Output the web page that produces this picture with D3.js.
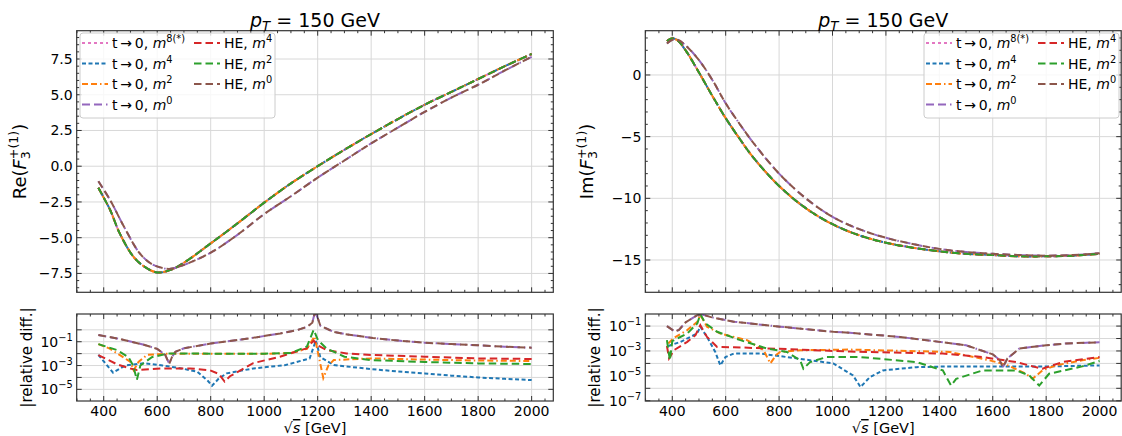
<!DOCTYPE html>
<html>
<head>
<meta charset="utf-8">
<script src="https://cdn.jsdelivr.net/npm/d3@7"></script>
<style>
body{margin:0;background:#fff}
text{font-family:"DejaVu Sans",sans-serif;fill:#000}
</style>
</head>
<body>
<div id="master"></div>
<script>
// ---- data ----
// top left: Re(F3+(1)) against sqrt(s)
const sRe = [380,400,425,460,510,550,600,650,700,800,900,1000,1100,1200,1300,1400,1500,1600,1700,1800,1900,2000]
const reMain = [-1.5,-2.2,-3.1,-4.7,-6.3,-7.0,-7.43,-7.25,-6.75,-5.4,-4.0,-2.55,-1.2,0.0,1.15,2.25,3.3,4.3,5.2,6.1,7.0,7.85]
const sRe0 = [380,425,475,535,580,620,650,700,800,900,1000,1100,1200,1300,1400,1500,1600,1700,1800,1900,2000]
const reM0 = [-1.05,-2.4,-4.2,-6.1,-6.85,-7.12,-7.18,-6.9,-6.05,-4.8,-3.35,-2.1,-0.8,0.4,1.6,2.7,3.8,4.8,5.7,6.7,7.65]

// top right: Im(F3+(1))
const sIm = [380,400,420,450,500,550,600,650,700,800,900,1000,1100,1200,1300,1400,1500,1600,1700,1800,1900,2000]
const imMain = [2.75,2.97,2.8,2.0,0.2,-1.7,-3.5,-5.1,-6.6,-9.0,-10.8,-12.1,-13.0,-13.6,-14.0,-14.3,-14.5,-14.6,-14.7,-14.7,-14.65,-14.5]
const imM0 = [2.55,2.85,2.85,2.4,1.2,-0.4,-2.3,-3.9,-5.4,-8.0,-10.0,-11.5,-12.5,-13.2,-13.7,-14.1,-14.35,-14.5,-14.6,-14.65,-14.6,-14.45]

// bottom panels: [sqrt(s), log10 |relative diff.|]
const relReM4 = [[380,-2.1],[435,-3.6],[480,-3.0],[550,-2.8],[620,-3.0],[690,-3.24],[750,-3.52],[790,-4.3],[805,-4.7],[830,-4.1],[860,-3.66],[960,-3.24],[1080,-2.96],[1170,-2.4],[1193,-0.9],[1210,-2.3],[1260,-2.96],[1400,-3.3],[1500,-3.5],[1600,-3.66],[1700,-3.85],[1800,-4.0],[1900,-4.12],[2000,-4.22]]
const relReM2 = [[380,-1.2],[420,-1.55],[480,-2.4],[500,-2.7],[512,-3.4],[530,-2.7],[562,-2.1],[650,-2.0],[800,-2.0],[1000,-2.02],[1100,-1.95],[1160,-1.6],[1188,-0.55],[1200,-1.8],[1221,-4.05],[1240,-3.0],[1260,-2.54],[1400,-2.4],[1600,-2.5],[1800,-2.58],[2000,-2.62]]
const relReM0 = [[380,-0.44],[450,-0.72],[500,-0.98],[550,-1.25],[600,-1.6],[630,-2.1],[645,-2.85],[655,-2.3],[668,-1.84],[700,-1.55],[800,-1.15],[850,-1.0],[950,-0.7],[1060,-0.3],[1120,-0.05],[1160,0.25],[1180,0.6],[1190,1.5],[1200,1.0],[1210,0.35],[1258,-0.16],[1300,-0.35],[1407,-0.69],[1500,-0.9],[1600,-1.08],[1700,-1.2],[1800,-1.3],[1900,-1.42],[2000,-1.5]]
const relReHE4 = [[380,-2.12],[450,-2.9],[500,-3.25],[524,-3.38],[623,-3.24],[723,-3.24],[797,-3.4],[830,-3.7],[852,-4.35],[872,-3.9],[959,-2.8],[1059,-2.26],[1158,-1.56],[1185,-0.9],[1200,-1.3],[1233,-1.7],[1308,-1.98],[1407,-2.12],[1600,-2.26],[1800,-2.4],[2000,-2.45]]
const relReHE2 = [[380,-1.2],[450,-1.7],[493,-2.3],[510,-3.0],[524,-4.2],[537,-3.0],[580,-2.3],[642,-1.98],[800,-2.0],[1000,-2.0],[1100,-1.95],[1160,-1.4],[1185,0.0],[1201,-0.86],[1233,-1.56],[1300,-2.26],[1400,-2.54],[1600,-2.7],[1800,-2.82],[2000,-2.87]]

const relImM4 = [[385,-2.6],[431,-2.27],[493,-1.6],[505,-1.05],[530,-1.87],[561,-3.08],[580,-4.16],[599,-3.49],[630,-3.21],[730,-3.21],[829,-3.49],[1003,-4.0],[1077,-4.97],[1105,-5.9],[1140,-5.1],[1189,-4.56],[1314,-4.3],[1439,-4.24],[1562,-4.24],[1811,-4.24],[2000,-4.16]]
const relImM2 = [[385,-2.4],[406,-1.95],[456,-1.32],[494,-0.65],[505,-0.1],[530,-1.05],[580,-1.6],[680,-2.13],[742,-2.94],[767,-4.0],[790,-3.3],[804,-3.08],[879,-2.94],[1065,-2.89],[1439,-3.08],[1587,-3.75],[1650,-4.1],[1724,-4.83],[1749,-5.24],[1786,-4.56],[1836,-4.16],[1935,-3.75],[2000,-3.55]]
const relImM0 = [[380,-1.0],[410,-1.45],[425,-1.3],[450,-0.7],[480,-0.3],[500,-0.05],[520,-0.12],[545,-0.28],[630,-0.65],[804,-1.05],[1003,-1.46],[1065,-1.54],[1252,-1.87],[1400,-2.27],[1500,-2.54],[1600,-3.27],[1625,-3.7],[1638,-4.3],[1655,-3.6],[1700,-2.8],[1800,-2.54],[1873,-2.4],[2000,-2.3]]
const relImHE4 = [[380,-2.6],[388,-3.6],[406,-2.94],[456,-2.27],[487,-1.73],[505,-0.92],[530,-1.87],[568,-2.68],[630,-2.7],[879,-2.89],[1065,-3.05],[1413,-3.21],[1562,-3.49],[1687,-3.89],[1786,-4.43],[1861,-3.89],[2000,-3.49]]
const relImHE2 = [[380,-2.13],[391,-3.75],[400,-2.2],[456,-1.6],[494,-0.78],[505,-0.05],[524,-0.78],[568,-1.46],[655,-2.13],[755,-2.81],[829,-3.08],[879,-3.75],[891,-4.43],[916,-3.89],[978,-3.49],[1103,-3.49],[1314,-3.89],[1413,-4.56],[1444,-5.78],[1463,-5.24],[1562,-4.56],[1687,-4.56],[1737,-4.97],[1774,-5.78],[1811,-4.83],[1935,-4.24],[2000,-3.8]]

const xMajorTicks = [400,600,800,1000,1200,1400,1600,1800,2000]
const reTicks = [-7.5,-5.0,-2.5,0.0,2.5,5.0,7.5]
const imTicks = [-15,-10,-5,0]
const legendLabels = ["t\u2009\u2192\u20090, ", "HE, "]

// ---- styles ----
const C = {m8:"#e377c2", m4:"#1f77b4", m2:"#ff7f0e", m0:"#9467bd", he4:"#d62728", he2:"#2ca02c", he0:"#8c564b"}
const D = {m8:"3,3", m4:"4,2.5", m2:"6,3,6,3,1.5,3", m0:"8,4,8,4,1.5,4", he4:"7.5,4", he2:"7.5,4", he0:"7.5,4"}

const W = 1122, H = 436
const svg = d3.select("#master").append("svg").attr("width", W).attr("height", H)
svg.append("rect").attr("width", W).attr("height", H).attr("fill", "#fff")

const cols = [{l:76.7, r:553.3}, {l:645.3, r:1121.2}]
const topBox = [30.7, 292.3], botBox = [314, 401]
const xDom = [299, 2081]
const minus = s => String(s).replace("-", "\u2212")

let clipId = 0
function rich(t, parts, fs) {
  let cur = 0
  parts.forEach(p => {
    const sp = t.append("tspan").text(p.t)
    const small = p.sup || p.sub
    sp.attr("font-size", small ? fs * 0.7 : fs)
    if (p.it) sp.attr("font-style", "italic")
    const target = p.sup ? -fs * 0.42 : p.sub ? fs * 0.22 : 0
    if (target != cur) sp.attr("dy", target - cur)
    cur = target
    if (p.dx) sp.attr("dx", p.dx)
    if (p.over) sp.style("text-decoration", "overline")
  })
}

function panel(col, box, yScaleType, yDom, yMajor, yMinor, yLabelFmt, series, opts) {
  const g = svg.append("g")
  const x = d3.scaleLinear().domain(xDom).range([col.l, col.r])
  const y = (yScaleType == "log" ? d3.scaleLog() : d3.scaleLinear()).domain(yDom).range([box[1], box[0]])

  // grid
  const grid = g.append("g").attr("stroke", "#d8d8d8").attr("stroke-width", 1)
  xMajorTicks.forEach(v => grid.append("line").attr("x1", x(v)).attr("x2", x(v)).attr("y1", box[0]).attr("y2", box[1]))
  opts.yGrid.forEach(v => grid.append("line").attr("x1", col.l).attr("x2", col.r).attr("y1", y(v)).attr("y2", y(v)))

  // curves
  const id = "clip" + (clipId++)
  svg.append("clipPath").attr("id", id).append("rect")
    .attr("x", col.l).attr("y", box[0]).attr("width", col.r - col.l).attr("height", box[1] - box[0])
  const cg = g.append("g").attr("clip-path", "url(#" + id + ")")
  series.forEach(s => {
    const line = d3.line().x(d => x(d[0])).y(d => y(d[1])).curve(s.curve || d3.curveLinear)
    cg.append("path").attr("d", line(s.pts)).attr("fill", "none")
      .attr("stroke", C[s.k]).attr("stroke-width", 2).attr("stroke-dasharray", D[s.k])
  })

  // ticks, inward on all four sides
  const tk = g.append("g").attr("stroke", "#333").attr("stroke-width", 1)
  const xMinor = d3.range(300, 2081, 50).filter(v => v % 200 != 0)
  xMajorTicks.forEach(v => {
    tk.append("line").attr("x1", x(v)).attr("x2", x(v)).attr("y1", box[1]).attr("y2", box[1] - 5)
    tk.append("line").attr("x1", x(v)).attr("x2", x(v)).attr("y1", box[0]).attr("y2", box[0] + 5)
  })
  xMinor.forEach(v => {
    tk.append("line").attr("x1", x(v)).attr("x2", x(v)).attr("y1", box[1]).attr("y2", box[1] - 2.5)
    tk.append("line").attr("x1", x(v)).attr("x2", x(v)).attr("y1", box[0]).attr("y2", box[0] + 2.5)
  })
  yMajor.forEach(v => {
    tk.append("line").attr("x1", col.l).attr("x2", col.l + 5).attr("y1", y(v)).attr("y2", y(v))
    tk.append("line").attr("x1", col.r).attr("x2", col.r - 5).attr("y1", y(v)).attr("y2", y(v))
  })
  yMinor.forEach(v => {
    tk.append("line").attr("x1", col.l).attr("x2", col.l + 2.5).attr("y1", y(v)).attr("y2", y(v))
    tk.append("line").attr("x1", col.r).attr("x2", col.r - 2.5).attr("y1", y(v)).attr("y2", y(v))
  })
  g.append("rect").attr("x", col.l).attr("y", box[0]).attr("width", col.r - col.l).attr("height", box[1] - box[0])
    .attr("fill", "none").attr("stroke", "#333").attr("stroke-width", 1.2)

  // y tick labels
  opts.yLabels.forEach(v => {
    const t = g.append("text").attr("x", col.l - 4).attr("y", y(v) + 5).attr("text-anchor", "end").attr("font-size", 14)
    yLabelFmt(t, v)
  })
  // x tick labels
  if (opts.xLabels) {
    xMajorTicks.forEach(v => g.append("text").attr("x", x(v)).attr("y", 415.5).attr("text-anchor", "middle")
      .attr("font-size", 14).text(v))
    const xl = g.append("text").attr("x", (col.l + col.r) / 2).attr("y", 433).attr("text-anchor", "middle")
    rich(xl, [{t:"\u221A"}, {t:"s", it:true, over:true}, {t:" [GeV]"}], 14.5)
  }
  // y label
  const yl = g.append("text").attr("transform", "translate(" + (col.l - opts.ylOff) + "," + ((box[0] + box[1]) / 2) + ") rotate(-90)")
    .attr("text-anchor", "middle")
  rich(yl, opts.yLabel, opts.ylSize)
  return g
}

function legend(bx, by) {
  const g = svg.append("g")
  g.append("rect").attr("x", bx).attr("y", by).attr("width", 195).attr("height", 85).attr("rx", 3)
    .attr("fill", "#fff").attr("fill-opacity", 0.8).attr("stroke", "#cccccc")
  const items = [
    [0, 0, "m8", 0, "8(*)"], [0, 1, "m4", 0, "4"], [0, 2, "m2", 0, "2"], [0, 3, "m0", 0, "0"],
    [1, 0, "he4", 1, "4"], [1, 1, "he2", 1, "2"], [1, 2, "he0", 1, "0"]
  ]
  items.forEach(([c, r, k, lab, sup]) => {
    const hx = bx + (c ? 114 : 2), cy = by + 10 + r * 20.5
    g.append("line").attr("x1", hx).attr("x2", hx + 26).attr("y1", cy).attr("y2", cy)
      .attr("stroke", C[k]).attr("stroke-width", 2).attr("stroke-dasharray", D[k])
    const t = g.append("text").attr("x", hx + 30).attr("y", cy + 5).attr("font-size", 14)
    rich(t, [{t:legendLabels[lab]}, {t:"m", it:true}, {t:sup, sup:true}], 14)
  })
}

function title(col) {
  const t = svg.append("text").attr("x", (col.l + col.r) / 2).attr("y", 26.5).attr("text-anchor", "middle")
  rich(t, [{t:"p", it:true}, {t:"T", it:true, sub:true}, {t:" = 150 GeV"}], 19)
}

const zip = (xs, ys) => xs.map((v, i) => [v, ys[i]])
const expo = pts => pts.map(d => [d[0], Math.pow(10, d[1])])
const smooth = d3.curveCatmullRom

const plainFmt = f => (t, v) => t.text(minus(f(v)))
const logFmt = (t, v) => rich(t, [{t:"10"}, {t:minus(Math.round(Math.log10(v))), sup:true}], 14)
const decades = (a, b) => d3.range(a, b + 1).map(e => Math.pow(10, e))
const fLabel = name => [{t:name + "("}, {t:"F", it:true}, {t:"3", sub:true}, {t:"+(1)", sup:true, dx:-8}, {t:")"}]

// top left
panel(cols[0], topBox, "lin", [-8.82, 9.48], reTicks, d3.range(-8.5, 9.01, 0.5).filter(v => v % 2.5 != 0), plainFmt(d3.format(".1f")), [
  {k:"m8", pts:zip(sRe, reMain), curve:smooth}, {k:"m4", pts:zip(sRe, reMain), curve:smooth},
  {k:"m2", pts:zip(sRe, reMain), curve:smooth}, {k:"m0", pts:zip(sRe0, reM0), curve:smooth},
  {k:"he4", pts:zip(sRe, reMain), curve:smooth}, {k:"he2", pts:zip(sRe, reMain), curve:smooth},
  {k:"he0", pts:zip(sRe0, reM0), curve:smooth}
], {yGrid:reTicks, yLabels:reTicks, ylOff:51, ylSize:18, yLabel:fLabel("Re")})

// top right
panel(cols[1], topBox, "lin", [-17.62, 3.59], imTicks, d3.range(-17, 3.01, 1).filter(v => v % 5 != 0), plainFmt(d3.format("d")), [
  {k:"m8", pts:zip(sIm, imMain), curve:smooth}, {k:"m4", pts:zip(sIm, imMain), curve:smooth},
  {k:"m2", pts:zip(sIm, imMain), curve:smooth}, {k:"m0", pts:zip(sIm, imM0), curve:smooth},
  {k:"he4", pts:zip(sIm, imMain), curve:smooth}, {k:"he2", pts:zip(sIm, imMain), curve:smooth},
  {k:"he0", pts:zip(sIm, imM0), curve:smooth}
], {yGrid:imTicks, yLabels:imTicks, ylOff:52, ylSize:18, yLabel:fLabel("Im")})

// bottom left
panel(cols[0], botBox, "log", [Math.pow(10, -5.98), Math.pow(10, 1.33)], decades(-5, 0), [], logFmt, [
  {k:"m4", pts:expo(relReM4)}, {k:"m2", pts:expo(relReM2)}, {k:"m0", pts:expo(relReM0)},
  {k:"he4", pts:expo(relReHE4)}, {k:"he2", pts:expo(relReHE2)}, {k:"he0", pts:expo(relReM0)}
], {yGrid:decades(-5, 0), yLabels:[1e-5, 1e-3, 1e-1], xLabels:true, ylOff:45, ylSize:15, yLabel:[{t:"|relative diff.|"}]})

// bottom right
panel(cols[1], botBox, "log", [Math.pow(10, -7.02), Math.pow(10, -0.03)], decades(-7, -1), [], logFmt, [
  {k:"m4", pts:expo(relImM4)}, {k:"m2", pts:expo(relImM2)}, {k:"m0", pts:expo(relImM0)},
  {k:"he4", pts:expo(relImHE4)}, {k:"he2", pts:expo(relImHE2)}, {k:"he0", pts:expo(relImM0)}
], {yGrid:decades(-7, -1), yLabels:[1e-7, 1e-5, 1e-3, 1e-1], xLabels:true, ylOff:45, ylSize:15, yLabel:[{t:"|relative diff.|"}]})

legend(80, 33)
legend(924, 33)
title(cols[0])
title(cols[1])
</script>
</body>
</html>
